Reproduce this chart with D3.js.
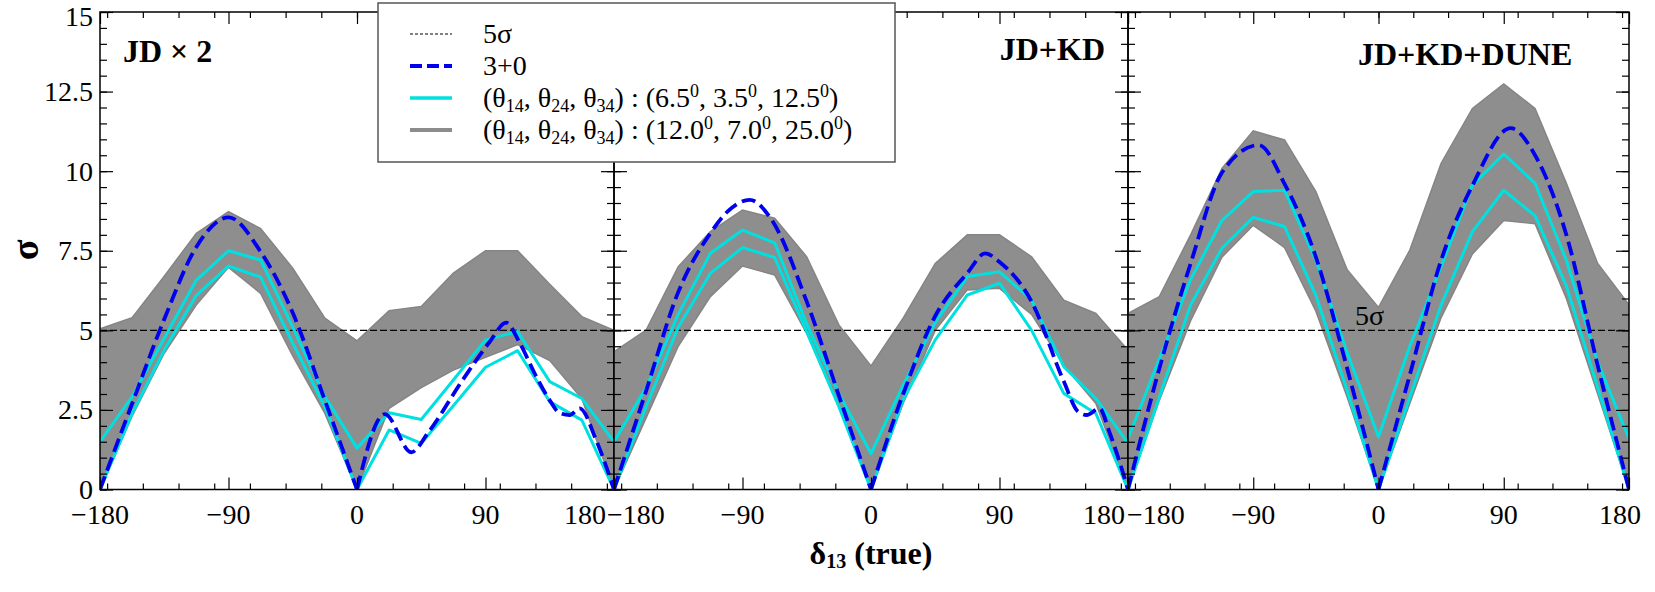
<!DOCTYPE html>
<html>
<head>
<meta charset="utf-8">
<script src="https://cdn.jsdelivr.net/npm/d3@7"></script>
<style>
body { margin: 0; background: #fff; }
text { font-family: "Liberation Serif", "Times New Roman", serif; fill: #000; }
</style>
</head>
<body>
<div id="chart"></div>
<script>
// Width and height
var w = 1655;
var h = 592;

// delta_13 grid (degrees) used by the band and the cyan curves
var deltaGrid = [-180, -157.5, -135, -112.5, -90, -67.5, -45, -22.5, 0, 22.5, 45, 67.5, 90, 112.5, 135, 157.5, 180];

// panel 1 : JD x 2
var band1Hi = [5.05, 5.4, 6.7, 8.05, 8.73, 8.2, 6.95, 5.38, 4.67, 5.62, 5.75, 6.8, 7.5, 7.5, 6.45, 5.43, 5.0];
var band1Lo = [0, 2.3, 4.28, 5.8, 6.98, 6.16, 4.2, 2.39, 0, 2.55, 3.2, 3.75, 4.15, 4.55, 4.05, 2.85, 0];
var cyan1Hi = [1.5, 2.92, 4.75, 6.58, 7.5, 7.21, 5.1, 2.92, 1.3, 2.41, 2.2, 3.44, 4.7, 4.96, 3.39, 2.86, 1.5];
var cyan1Lo = [0, 2.39, 4.38, 6.1, 7.02, 6.67, 4.6, 2.6, 0, 1.87, 1.45, 2.63, 3.84, 4.36, 2.76, 2.18, 0];
var blue1Delta = [-180, -157.5, -135, -112.5, -90, -67.5, -45, -22.5, 0, 19.5, 38, 50, 74, 93, 104.5, 114, 125.5, 135, 142, 149, 156, 167.5, 180];
var blue1Sigma = [0, 2.7, 5.35, 7.62, 8.55, 7.47, 5.55, 2.8, 0, 2.37, 1.17, 1.8, 3.44, 4.64, 5.24, 4.6, 3.55, 2.8, 2.4, 2.34, 2.55, 1.55, 0];

// panel 2 : JD+KD
var band2Hi = [4.33, 5.01, 7.0, 8.1, 8.78, 8.52, 7.31, 5.17, 3.88, 5.38, 7.1, 8.0, 8.0, 7.31, 5.95, 5.53, 4.38];
var band2Lo = [0, 2.25, 4.5, 6.06, 7.02, 6.74, 4.9, 2.6, 0, 2.7, 5.0, 6.27, 6.32, 5.5, 3.9, 2.7, 0];
var cyan2Hi = [1.5, 3.2, 5.5, 7.42, 8.15, 7.75, 5.2, 3.02, 1.13, 3.28, 5.25, 6.69, 6.84, 5.95, 3.86, 2.86, 1.45];
var cyan2Lo = [0, 2.6, 5.1, 6.79, 7.6, 7.29, 4.95, 2.6, 0, 2.81, 4.7, 6.11, 6.48, 5.0, 3.02, 2.39, 0];
var blue2Delta = [-180, -157.5, -135, -112.5, -100, -85, -70, -45, -22.5, 0, 22.5, 45, 67.5, 80, 90, 112.5, 135, 145, 151, 160, 167, 180];
var blue2Sigma = [0, 3.1, 6.2, 8.05, 8.75, 9.1, 8.5, 5.9, 2.95, 0, 3.0, 5.45, 6.8, 7.42, 7.15, 5.9, 3.4, 2.45, 2.34, 2.55, 1.8, 0];

// panel 3 : JD+KD+DUNE
var band3Hi = [5.53, 6.06, 8.0, 10.09, 11.27, 10.98, 9.36, 6.9, 5.72, 7.52, 10.25, 11.97, 12.74, 11.97, 9.62, 7.1, 5.8];
var band3Lo = [0, 2.8, 5.3, 7.3, 8.3, 7.6, 5.6, 2.9, 0, 2.7, 5.4, 7.4, 8.45, 8.35, 6.0, 3.0, 0];
var cyan3Hi = [1.6, 4.1, 6.6, 8.45, 9.36, 9.4, 7.2, 4.3, 1.66, 4.5, 7.0, 9.57, 10.54, 9.62, 7.2, 4.0, 1.6];
var cyan3Lo = [0, 2.9, 5.8, 7.58, 8.55, 8.26, 6.1, 3.1, 0, 2.9, 5.8, 8.1, 9.4, 8.6, 6.4, 3.2, 0];
var blue3Delta = [-180, -157.5, -135, -112.5, -86, -67.5, -45, -22.5, 0, 22.5, 45, 67.5, 95, 112.5, 135, 157.5, 180];
var blue3Sigma = [0, 3.8, 7.1, 9.95, 10.82, 9.6, 7.3, 3.8, 0, 3.6, 7.2, 9.55, 11.35, 10.5, 8.0, 3.9, 0];

var panelNames = ["JD \u00d7 2", "JD+KD", "JD+KD+DUNE"];
var xMajor = [-180, -90, 0, 90, 180];
var xMinor = d3.range(-175, 180, 25);
var yMajor = [0, 2.5, 5, 7.5, 10, 12.5, 15];
var yMinor = d3.range(0, 15.01, 0.5);
var fiveSigma = 5;

var legendLabels = [
  [["5\u03c3", 0]],
  [["3+0", 0]],
  [["(\u03b8", 0], ["14", 1], [", \u03b8", 0], ["24", 1], [", \u03b8", 0], ["34", 1], [") : (6.5", 0], ["0", 2], [", 3.5", 0], ["0", 2], [", 12.5", 0], ["0", 2], [")", 0]],
  [["(\u03b8", 0], ["14", 1], [", \u03b8", 0], ["24", 1], [", \u03b8", 0], ["34", 1], [") : (12.0", 0], ["0", 2], [", 7.0", 0], ["0", 2], [", 25.0", 0], ["0", 2], [")", 0]]
];

var panels = [
  { hi: band1Hi, lo: band1Lo, c1: cyan1Hi, c2: cyan1Lo, bd: blue1Delta, bs: blue1Sigma },
  { hi: band2Hi, lo: band2Lo, c1: cyan2Hi, c2: cyan2Lo, bd: blue2Delta, bs: blue2Sigma },
  { hi: band3Hi, lo: band3Lo, c1: cyan3Hi, c2: cyan3Lo, bd: blue3Delta, bs: blue3Sigma }
];

// layout
var edges = [100, 614, 1128, 1629];
var plotTop = 12, plotBottom = 489.5;
var bandColor = "#8e8e8e", cyanColor = "#00e0e0", blueColor = "#0000ee";

var svg = d3.select("#chart").append("svg")
  .attr("width", w)
  .attr("height", h)
  .style("display", "block");

var y = d3.scaleLinear().domain([0, 15]).range([plotBottom, plotTop]);

panels.forEach(function(p, i) {
  var x = d3.scaleLinear().domain([-180, 180]).range([edges[i], edges[i + 1]]);
  var g = svg.append("g");

  g.append("clipPath").attr("id", "clip" + i)
    .append("rect")
    .attr("x", edges[i]).attr("y", plotTop)
    .attr("width", edges[i + 1] - edges[i]).attr("height", plotBottom - plotTop);

  var plot = g.append("g").attr("clip-path", "url(#clip" + i + ")");

  // gray band
  var area = d3.area()
    .x(function(d, k) { return x(deltaGrid[k]); })
    .y0(function(d, k) { return y(p.lo[k]); })
    .y1(function(d, k) { return y(p.hi[k]); });
  plot.append("path")
    .attr("d", area(deltaGrid))
    .attr("fill", bandColor)
    .attr("stroke", "#858585")
    .attr("stroke-width", 1.5);

  // 5 sigma line
  plot.append("line")
    .attr("x1", edges[i]).attr("x2", edges[i + 1])
    .attr("y1", y(fiveSigma)).attr("y2", y(fiveSigma))
    .attr("stroke", "#000")
    .attr("stroke-width", 1.1)
    .attr("stroke-dasharray", "7,3");

  // cyan curves
  var line = d3.line()
    .x(function(d, k) { return x(deltaGrid[k]); })
    .y(function(d) { return y(d); });
  [p.c1, p.c2].forEach(function(c) {
    plot.append("path")
      .attr("d", line(c))
      .attr("fill", "none")
      .attr("stroke", cyanColor)
      .attr("stroke-width", 3)
      .attr("stroke-linejoin", "round");
  });

  // blue dashed (3+0), one smooth piece per lobe so the zeros stay sharp
  var pts = p.bd.map(function(d, k) { return [d, p.bs[k]]; });
  var lobes = [], cur = [];
  pts.forEach(function(pt, k) {
    cur.push(pt);
    if (pt[1] === 0 && k > 0) { lobes.push(cur); cur = [pt]; }
  });
  var blueLine = d3.line()
    .x(function(d) { return x(d[0]); })
    .y(function(d) { return y(d[1]); })
    .curve(d3.curveMonotoneX);
  lobes.forEach(function(lb) {
    plot.append("path")
      .attr("d", blueLine(lb))
      .attr("fill", "none")
      .attr("stroke", blueColor)
      .attr("stroke-width", 3.8)
      .attr("stroke-dasharray", "14,6");
  });

  // frame
  g.append("rect")
    .attr("x", edges[i]).attr("y", plotTop)
    .attr("width", edges[i + 1] - edges[i]).attr("height", plotBottom - plotTop)
    .attr("fill", "none")
    .attr("stroke", "#000")
    .attr("stroke-width", 1.5);

  // ticks on all four sides, pointing inward
  function ticks(axis, vals, size, tr) {
    var a = g.append("g").attr("transform", tr)
      .call(axis.tickValues(vals).tickSize(size).tickSizeOuter(0).tickFormat(""));
    a.select(".domain").remove();
    a.selectAll("line").attr("stroke", "#000").attr("stroke-width", 1.2);
  }
  ticks(d3.axisBottom(x), xMajor, -12, "translate(0," + plotBottom + ")");
  ticks(d3.axisBottom(x), xMinor, -6, "translate(0," + plotBottom + ")");
  ticks(d3.axisTop(x), xMajor, -12, "translate(0," + plotTop + ")");
  ticks(d3.axisTop(x), xMinor, -6, "translate(0," + plotTop + ")");
  ticks(d3.axisLeft(y), yMajor, -13, "translate(" + edges[i] + ",0)");
  ticks(d3.axisLeft(y), yMinor, -7, "translate(" + edges[i] + ",0)");
  ticks(d3.axisRight(y), yMajor, -13, "translate(" + edges[i + 1] + ",0)");
  ticks(d3.axisRight(y), yMinor, -7, "translate(" + edges[i + 1] + ",0)");

  // x tick labels
  xMajor.forEach(function(v) {
    var t = g.append("text")
      .attr("y", 524)
      .attr("font-size", 28)
      .text(v < 0 ? "\u2212" + Math.abs(v) : v);
    if (v === -180 && i > 0) {
      t.attr("x", x(v) - (i === 1 ? 7 : 1)).attr("text-anchor", "start");
    } else if (v === 180) {
      t.attr("x", i === 2 ? x(v) + 12 : x(v) - (i === 0 ? 8 : 3)).attr("text-anchor", "end");
    } else {
      t.attr("x", x(v)).attr("text-anchor", "middle");
    }
  });

  // panel name
  var name = g.append("text")
    .attr("font-size", 32)
    .attr("font-weight", "bold")
    .text(panelNames[i]);
  if (i === 0) name.attr("x", 123).attr("y", 62);
  if (i === 1) name.attr("x", 1105).attr("y", 60).attr("text-anchor", "end");
  if (i === 2) name.attr("x", 1358).attr("y", 65);
});

// y tick labels (first panel only)
svg.selectAll(".ylab")
  .data(yMajor)
  .enter()
  .append("text")
  .attr("class", "ylab")
  .attr("x", 93)
  .attr("y", function(d) { return d === 15 ? y(d) + 4 : y(d); })
  .attr("dy", "0.34em")
  .attr("text-anchor", "end")
  .attr("font-size", 28)
  .text(function(d) { return d; });

// 5 sigma note inside the third panel
svg.append("text")
  .attr("x", 1355)
  .attr("y", 325)
  .attr("font-size", 28)
  .text("5\u03c3");

// axis titles
svg.append("text")
  .attr("transform", "translate(38,250) rotate(-90)")
  .attr("text-anchor", "middle")
  .attr("font-size", 38)
  .attr("font-weight", "bold")
  .text("\u03c3");

var xt = svg.append("text")
  .attr("x", 871)
  .attr("y", 564)
  .attr("text-anchor", "middle")
  .attr("font-size", 32)
  .attr("font-weight", "bold");
xt.append("tspan").text("\u03b4");
xt.append("tspan").attr("font-size", 20).attr("dy", 4).text("13");
xt.append("tspan").attr("dy", -4).text(" (true)");

// legend
var lg = svg.append("g");
lg.append("rect")
  .attr("x", 378).attr("y", 3)
  .attr("width", 517).attr("height", 159)
  .attr("fill", "#fff")
  .attr("stroke", "#555")
  .attr("stroke-width", 1.5);

var legendStyles = [
  { c: "#000", wd: 1, dash: "3,2" },
  { c: blueColor, wd: 3.8, dash: "12,5" },
  { c: cyanColor, wd: 3.5, dash: null },
  { c: "#8c8c8c", wd: 4, dash: null }
];
legendLabels.forEach(function(parts, k) {
  var cy = 34 + k * 32;
  var s = legendStyles[k];
  lg.append("line")
    .attr("x1", 410).attr("x2", 452)
    .attr("y1", cy).attr("y2", cy)
    .attr("stroke", s.c)
    .attr("stroke-width", s.wd)
    .attr("stroke-dasharray", s.dash);
  var t = lg.append("text")
    .attr("x", 483)
    .attr("y", cy + 9)
    .attr("font-size", 28);
  var off = 0;
  parts.forEach(function(pt) {
    var target = pt[1] === 1 ? 5 : (pt[1] === 2 ? -10 : 0);
    var sp = t.append("tspan").attr("dy", target - off).text(pt[0]);
    if (pt[1] !== 0) sp.attr("font-size", 18);
    off = target;
  });
});
</script>
</body>
</html>
